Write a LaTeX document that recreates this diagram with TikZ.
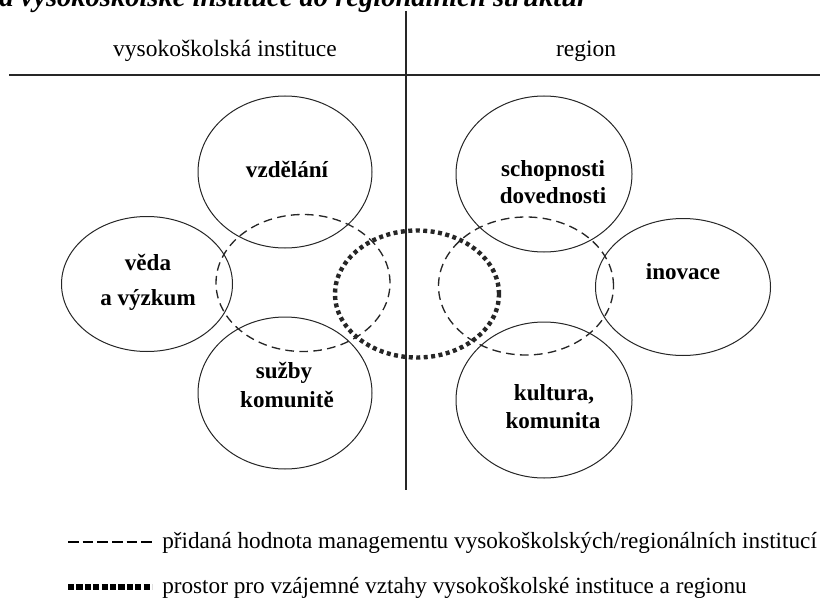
\documentclass[tikz,border=0pt]{standalone}
\usepackage{fontspec}
\setmainfont{Liberation Serif}
\usetikzlibrary{shapes.geometric}
\tikzset{
  circ/.style={draw=black!85, ellipse, line width=0.75pt, inner sep=0pt, outer sep=0pt},
  dashcirc/.style={circ, line width=1pt, dash pattern=on 6.5pt off 4pt},
  dotcirc/.style={circ, line width=3.3pt, dash pattern=on 3pt off 2.6pt},
  lbl/.style={font=\fontsize{17.3}{20}\selectfont\bfseries, anchor=base, inner sep=0pt},
  hdr/.style={font=\fontsize{17.6}{20}\selectfont, anchor=base, inner sep=0pt},
  leg/.style={font=\fontsize{17.4}{20}\selectfont, anchor=base west, inner sep=0pt},
  rule/.style={line width=1.1pt, draw=black!85}
}
\begin{document}
\begin{tikzpicture}[x=0.75pt,y=-0.75pt]
\useasboundingbox (0,0) rectangle (820,599);
% title (clipped at top, as in the reference)
\begin{scope}
\clip (0,0) rectangle (820,599);
\node[font=\fontsize{21.4}{24}\selectfont\bfseries\itshape, anchor=base west, inner sep=0pt] (title) at (-1,7) {a vysokoškolské instituce do regionálních struktur};
\end{scope}
% frame lines
\coordinate (vtop) at (406,11);
\coordinate (vbot) at (406,490);
\coordinate (hl) at (9,75);
\coordinate (hr) at (820,75);
\draw[rule] (vtop) -- (vbot);
\draw[rule] (hl) -- (hr);
% headers
\node[hdr] (h1) at (225,57) {vysokoškolská instituce};
\node[hdr] (h2) at (586,57) {region};
% left ellipses
\node[circ, minimum width={174*0.75pt}, minimum height={152*0.75pt}] (vzd) at (285,172) {};
\node[circ, minimum width={171*0.75pt}, minimum height={135*0.75pt}] (ved) at (147,284) {};
\node[circ, minimum width={174*0.75pt}, minimum height={152*0.75pt}] (slu) at (285,393) {};
\node[dashcirc, minimum width={174*0.75pt}, minimum height={137*0.75pt}] (dl) at (303,283) {};
% right ellipses
\node[circ, minimum width={176*0.75pt}, minimum height={156*0.75pt}] (sch) at (544,174) {};
\node[circ, minimum width={175*0.75pt}, minimum height={137*0.75pt}] (ino) at (683,287) {};
\node[circ, minimum width={176*0.75pt}, minimum height={156*0.75pt}] (kul) at (544,400) {};
\node[dashcirc, minimum width={175*0.75pt}, minimum height={138*0.75pt}] (dr) at (526,286) {};
% central dotted
\node[dotcirc, minimum width={164*0.75pt}, minimum height={127*0.75pt}] (mid) at (417,294) {};
% labels
\node[lbl] (t1) at (287,177) {vzdělání};
\node[lbl] (t2) at (148,270) {věda};
\node[lbl] (t3) at (148,305) {a výzkum};
\node[lbl] (t4) at (284,378) {sužby};
\node[lbl] (t5) at (287,407) {komunitě};
\node[lbl] (t6) at (553,176) {schopnosti};
\node[lbl] (t7) at (553,203) {dovednosti};
\node[lbl] (t8) at (683,279) {inovace};
\node[lbl] (t9) at (554,400) {kultura,};
\node[lbl] (t10) at (553,428) {komunita};
% legend
\coordinate (l1a) at (68,542);
\coordinate (l1b) at (152,542);
\coordinate (l2a) at (68,587);
\coordinate (l2b) at (152,587);
\draw[line width=1.1pt, dash pattern=on 8pt off 3pt] (l1a) -- (l1b);
\draw[line width=3.8pt, dash pattern=on 4.6pt off 1.7pt] (l2a) -- (l2b);
\node[leg] (lt1) at (162,548) {přidaná hodnota managementu vysokoškolských/regionálních institucí};
\node[leg] (lt2) at (162,593) {prostor pro vzájemné vztahy vysokoškolské instituce a regionu};
\end{tikzpicture}
\end{document}
